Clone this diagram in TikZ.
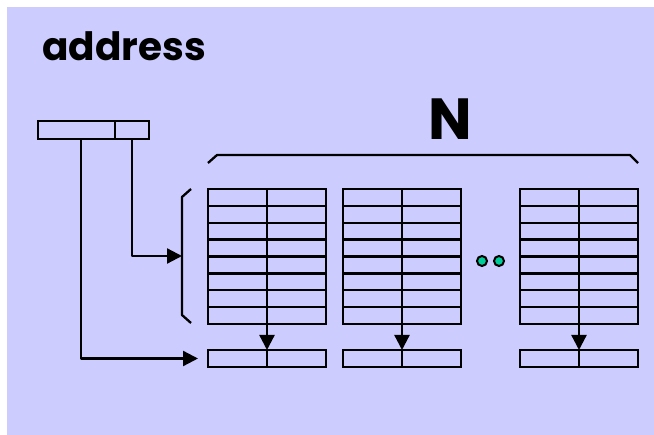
\documentclass[tikz,border=0pt]{standalone}
\usepackage{fontspec}
\setmainfont{Poppins}
\usetikzlibrary{arrows.meta,calc}
\definecolor{bglav}{HTML}{CCCCFF}
\definecolor{dotgreen}{HTML}{00CC99}
\begin{document}
\begin{tikzpicture}[x=1pt,y=-1pt,
  ln/.style={line width=2.3pt, line join=round},
  cell/.style={draw, line width=2.3pt, rectangle, inner sep=0pt, outer sep=0pt},
  tbl/.style={cell, minimum width=118pt, minimum height=135pt},
  bbox/.style={cell, minimum width=118pt, minimum height=17pt},
  arr/.style={ln, -{Triangle[length=15pt,width=15pt]}},
  dot/.style={circle, draw, line width=2pt, fill=dotgreen, minimum size=10pt, inner sep=0pt},
  lbl/.style={inner sep=0pt, font=\bfseries}
]
\useasboundingbox (0,0) rectangle (654,435);
\fill[bglav] (7,7) rectangle (654,435);

% title
\node[lbl, anchor=base west, font=\fontsize{39}{42}\selectfont\bfseries] (title) at (42,61) {address};
\node[lbl, anchor=base, font=\fontsize{58}{62}\selectfont\bfseries] (nlabel) at (450,140) {N};

% address box
\node[cell, minimum width=77pt, minimum height=18pt] (addrL) at (76.5,130) {};
\node[cell, minimum width=34pt, minimum height=18pt] (addrR) at (132,130) {};

% tables
\foreach \n/\cx in {1/267, 2/402, 3/579} {
  \node[tbl] (t\n) at (\cx,256.5) {};
  \node[bbox] (b\n) at (\cx,358.5) {};
  \foreach \k in {1,...,7} {
    \draw[ln] ($(t\n.north west)+(0,16.875*\k)$) -- ($(t\n.north east)+(0,16.875*\k)$);
  }
  \draw[ln] (t\n.north) -- (t\n.south);
  \draw[ln] (b\n.north) -- (b\n.south);
  \draw[arr] (t\n.south) -- (b\n.north);
}

% left brace
\coordinate (btip) at (182,256);
\draw[ln] (191,189) -- (182,197) -- (182,315) -- (191,323);
% top brace
\draw[ln] (208,163) -- (217,155) -- (630,155) -- (638,163);

% connectors
\draw[arr] (addrR.south) |- (btip);
\draw[arr, shorten >=10pt] ([xshift=4.5pt]addrL.south) |- (b1.west);

% dots
\node[dot] (d1) at (482,261) {};
\node[dot] (d2) at (499,261) {};
\end{tikzpicture}
\end{document}
